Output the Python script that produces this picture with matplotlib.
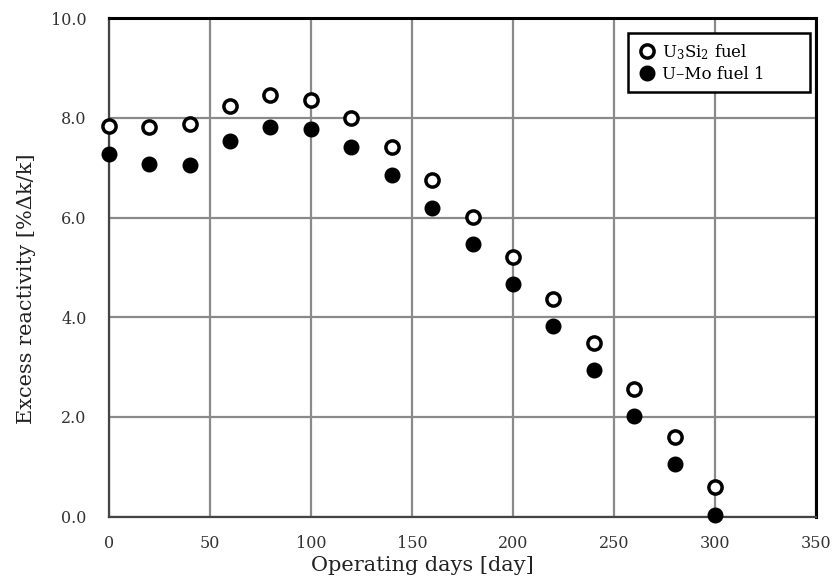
import numpy as np
import matplotlib.pyplot as plt

days = [0, 20, 40, 60, 80, 100, 120, 140, 160, 180, 200, 220, 240, 260, 280, 300]
u3si2 = [7.83, 7.81, 7.87, 8.23, 8.46, 8.36, 7.99, 7.42, 6.75, 6.01, 5.21, 4.36, 3.49, 2.56, 1.60, 0.59]
umo = [7.27, 7.07, 7.05, 7.53, 7.81, 7.77, 7.42, 6.86, 6.19, 5.46, 4.67, 3.82, 2.94, 2.01, 1.05, 0.03]

xticks = [0, 50, 100, 150, 200, 250, 300, 350]
yticks = [0.0, 2.0, 4.0, 6.0, 8.0, 10.0]

plt.rcParams['font.family'] = ['DejaVu Serif']
plt.rcParams['mathtext.fontset'] = 'dejavuserif'

fig = plt.figure(figsize=(8.37, 5.87), dpi=100)
ax = fig.add_axes([0.130, 0.120, 0.845, 0.849])

ax.plot(days, u3si2, linestyle='none', marker='o', ms=9.5, mfc='white', mec='black',
        mew=2.5, label='U$_3$Si$_2$ fuel', zorder=3, clip_on=False)
ax.plot(days, umo, linestyle='none', marker='o', ms=10.5, mfc='black', mec='black',
        mew=1, label='U–Mo fuel 1', zorder=3, clip_on=False)

ax.set_xlim(0, 350)
ax.set_ylim(0, 10)
ax.set_xticks(xticks)
ax.set_yticks(yticks)
ax.set_yticklabels(['{:.1f}'.format(v) for v in yticks])
ax.grid(True, color='#8a8a8a', linewidth=1.6)
ax.set_axisbelow(True)
ax.tick_params(length=0, labelsize=11.5, colors='#333333')
ax.tick_params(axis='y', pad=16)
ax.tick_params(axis='x', pad=13)

for side in ('left', 'bottom'):
    ax.spines[side].set_color('#444444')
    ax.spines[side].set_linewidth(1.6)
for side in ('top', 'right'):
    ax.spines[side].set_color('black')
    ax.spines[side].set_linewidth(2.2)

ax.set_xlabel('Operating days [day]', fontsize=15, color='#222222')
ax.set_ylabel('Excess reactivity [%Δk/k]', fontsize=15, color='#222222')
ax.xaxis.set_label_coords(0.444, -0.080)
ax.yaxis.set_label_coords(-0.103, 0.458)

# legend box stretched to a fixed width, entries stay on the left
leg = ax.legend(loc='upper right', bbox_to_anchor=(0.734, 0.0, 0.2575, 0.970),
                mode='expand', borderaxespad=0,
                fontsize=12, handletextpad=0.3, handlelength=1.2, borderpad=0.55,
                labelspacing=0.25, fancybox=False, framealpha=1)
leg.get_frame().set_edgecolor('black')
leg.get_frame().set_linewidth(1.8)

fig.savefig('out.png', dpi=100)
